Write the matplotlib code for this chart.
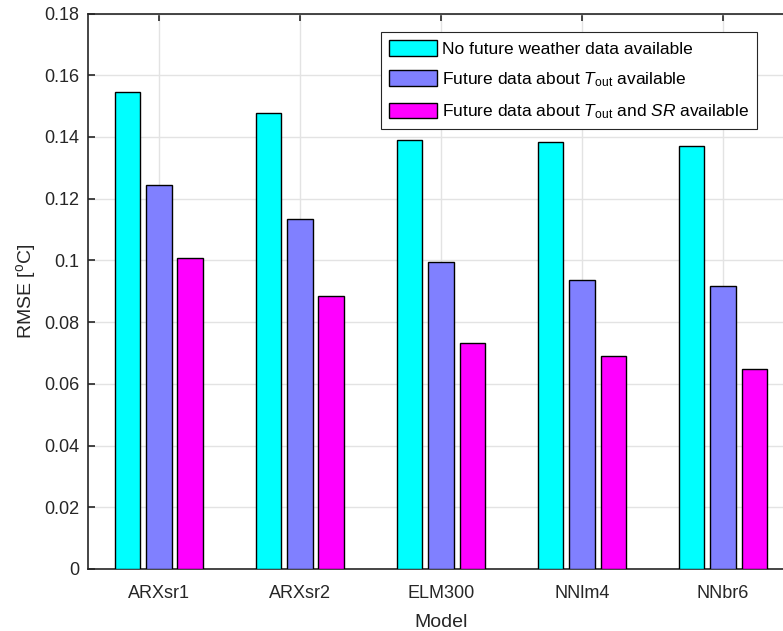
import matplotlib
matplotlib.use("Agg")
import matplotlib.pyplot as plt
import numpy as np

plt.rcParams["font.family"] = ["Liberation Sans", "DejaVu Sans"]
plt.rcParams["mathtext.fontset"] = "custom"
plt.rcParams["mathtext.rm"] = "Liberation Sans"
plt.rcParams["mathtext.it"] = "Liberation Sans:italic"

# RMSE values
models = ["ARXsr1", "ARXsr2", "ELM300", "NNlm4", "NNbr6"]
no_future = [0.1547, 0.1479, 0.1389, 0.1383, 0.1372]
future_tout = [0.1245, 0.1135, 0.0995, 0.0936, 0.0916]
future_tout_sr = [0.1008, 0.0886, 0.0731, 0.0690, 0.0647]

labels = [
    "No future weather data available",
    r"Future data about $\mathit{T}_{\rm out}$ available",
    r"Future data about $\mathit{T}_{\rm out}$ and $\mathit{SR}$ available",
]
colors = ["#00ffff", "#8080ff", "#ff00ff"]
axis_col = "#262626"

fig = plt.figure(figsize=(7.83, 6.31), dpi=100)
ax = fig.add_axes([0.1128, 0.0983, 0.9006, 0.8803])

x = np.arange(1, len(models) + 1)
offsets = [-0.222, 0.0, 0.222]
for vals, off, col, lab in zip([no_future, future_tout, future_tout_sr], offsets, colors, labels):
    ax.bar(x + off, vals, width=0.18, color=col, edgecolor="black",
           linewidth=1.0, label=lab, zorder=3)

ax.set_xlim(0.5, 5.5)
ax.set_ylim(0, 0.18)
ax.set_xticks(x)
ax.set_xticklabels(models)
ax.set_yticks(np.arange(0, 0.181, 0.02))
ax.set_yticklabels(["0", "0.02", "0.04", "0.06", "0.08", "0.1",
                    "0.12", "0.14", "0.16", "0.18"])

ax.grid(True, color="#e3e3e3", linewidth=1.0, zorder=0)
ax.set_axisbelow(True)
ax.tick_params(direction="in", length=5, width=1.2, top=True, right=True,
               labelsize=13, colors=axis_col, labelcolor=axis_col, pad=6.5)
ax.tick_params(axis="x", pad=11.5)
for sp in ax.spines.values():
    sp.set_color(axis_col)
    sp.set_linewidth(1.2)

ax.set_xlabel("Model", fontsize=14, color=axis_col, labelpad=8.5)
ax.set_ylabel(r"RMSE [$^{\rm o}$C]", fontsize=14, color=axis_col, labelpad=4)

leg = ax.legend(loc="upper right", bbox_to_anchor=(757 / 783, 1 - 32 / 631),
                bbox_transform=fig.transFigure, borderaxespad=0,
                fontsize=12.5, fancybox=False, framealpha=1,
                edgecolor=axis_col, handlelength=2.8, handleheight=1.03,
                handletextpad=0.25, labelspacing=0.78, borderpad=0.45)
leg.get_frame().set_linewidth(0.8)

fig.savefig("out.png", dpi=100)
